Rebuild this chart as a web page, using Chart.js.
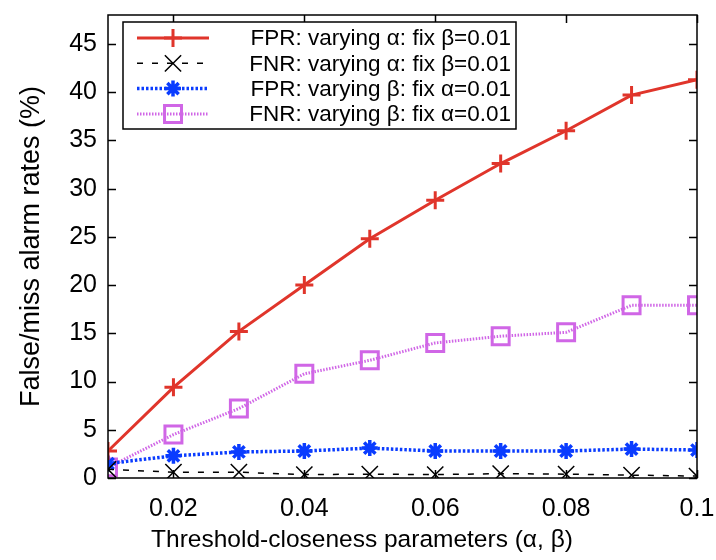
<!DOCTYPE html>
<html>
<head>
<meta charset="utf-8">
<script src="https://cdn.jsdelivr.net/npm/chart.js@4.4.1/dist/chart.umd.min.js"></script>
<style>
  html, body { margin: 0; padding: 0; background: #fff; }
  #wrap { width: 716px; height: 560px; }
</style>
</head>
<body>
<div id="wrap"><canvas id="rates" width="716" height="560"></canvas></div>
<script>
// threshold-closeness parameter values (alpha or beta)
const params = [0.01, 0.02, 0.03, 0.04, 0.05, 0.06, 0.07, 0.08, 0.09, 0.1];

// rates in %
const fprAlpha = [2.8, 9.4, 15.2, 20.0, 24.8, 28.8, 32.6, 36.0, 39.7, 41.3];
const fnrAlpha = [0.9, 0.6, 0.6, 0.35, 0.4, 0.35, 0.45, 0.4, 0.3, 0.2];
const fprBeta = [1.5, 2.3, 2.7, 2.8, 3.1, 2.8, 2.8, 2.8, 3.0, 2.9];
const fnrBeta = [1.1, 4.5, 7.2, 10.8, 12.2, 14.0, 14.7, 15.1, 17.9, 17.9];

const seriesNames = [
  'FPR: varying α: fix β=0.01',
  'FNR: varying α: fix β=0.01',
  'FPR: varying β: fix α=0.01',
  'FNR: varying β: fix α=0.01'
];

const xTicks = [0.02, 0.04, 0.06, 0.08, 0.1];
const xTickLabels = ['0.02', '0.04', '0.06', '0.08', '0.1'];
const yTicks = [0, 5, 10, 15, 20, 25, 30, 35, 40, 45];

const xTitle = 'Threshold-closeness parameters (α, β)';
const yTitle = 'False/miss alarm rates (%)';

const FONT = '"Liberation Sans", Arial, Helvetica, sans-serif';

const pts = (ys) => params.map((x, i) => ({ x: x, y: ys[i] }));

// marker shapes, same geometry Chart.js uses for its point styles
function drawMarker(ctx, style, cx, cy, r) {
  const d = Math.SQRT1_2 * r;
  ctx.beginPath();
  if (style === 'cross' || style === 'star') {
    ctx.moveTo(cx - r, cy); ctx.lineTo(cx + r, cy);
    ctx.moveTo(cx, cy - r); ctx.lineTo(cx, cy + r);
  }
  if (style === 'crossRot' || style === 'star') {
    ctx.moveTo(cx - d, cy - d); ctx.lineTo(cx + d, cy + d);
    ctx.moveTo(cx - d, cy + d); ctx.lineTo(cx + d, cy - d);
  }
  if (style === 'rect') {
    ctx.rect(cx - d, cy - d, 2 * d, 2 * d);
  }
  ctx.stroke();
}

// gnuplot-like frame, inward ticks, x label and boxed key
const framePlugin = {
  id: 'frame',
  afterDraw(chart) {
    const { ctx, chartArea: a, scales: { x, y } } = chart;
    ctx.save();
    ctx.strokeStyle = '#000';
    ctx.lineWidth = 1.5;
    ctx.setLineDash([]);
    ctx.strokeRect(a.left, a.top, a.right - a.left, a.bottom - a.top);

    const tl = 8;
    ctx.beginPath();
    yTicks.forEach(v => {
      const py = Math.round(y.getPixelForValue(v)) + 0.5;
      ctx.moveTo(a.left, py); ctx.lineTo(a.left + tl, py);
      ctx.moveTo(a.right, py); ctx.lineTo(a.right - tl, py);
    });
    xTicks.forEach(v => {
      const px = Math.round(x.getPixelForValue(v)) + 0.5;
      ctx.moveTo(px, a.bottom); ctx.lineTo(px, a.bottom - tl);
      ctx.moveTo(px, a.top); ctx.lineTo(px, a.top + tl);
    });
    ctx.stroke();

    // x label sits centred on the whole figure, as in gnuplot output
    ctx.fillStyle = '#000';
    ctx.font = '24.5px ' + FONT;
    ctx.textAlign = 'center';
    ctx.textBaseline = 'alphabetic';
    ctx.fillText(xTitle, chart.width / 2 + 4, 547);

    // key
    const bx = a.left + 15, by = a.top + 7, bw = 393, bh = 107;
    ctx.fillStyle = '#fff';
    ctx.fillRect(bx, by, bw, bh);
    ctx.lineWidth = 1.5;
    ctx.strokeStyle = '#000';
    ctx.strokeRect(bx, by, bw, bh);

    ctx.font = '22.5px ' + FONT;
    ctx.textAlign = 'right';
    ctx.textBaseline = 'middle';
    chart.data.datasets.forEach((ds, i) => {
      const ry = by + 16 + i * 25.3;
      ctx.strokeStyle = ds.borderColor;
      ctx.lineWidth = ds.borderWidth;
      ctx.setLineDash(ds.borderDash || []);
      ctx.beginPath();
      ctx.moveTo(bx + 14, ry); ctx.lineTo(bx + 86, ry);
      ctx.stroke();
      ctx.setLineDash([]);
      ctx.lineWidth = ds.pointBorderWidth;
      drawMarker(ctx, ds.pointStyle, bx + 50, ry, ds.pointRadius);
      ctx.fillStyle = '#000';
      ctx.fillText(ds.label, bx + bw - 5, ry + 1);
    });
    ctx.restore();
  }
};

const ctx = document.getElementById('rates').getContext('2d');
const ratesChart = new Chart(ctx, {
  type: 'line',
  data: {
    datasets: [
      {
        label: seriesNames[0],
        data: pts(fprAlpha),
        borderColor: '#e0352b',
        borderWidth: 3,
        pointStyle: 'cross',
        pointRadius: 9,
        pointBorderWidth: 3,
        pointBorderColor: '#e0352b',
        pointBackgroundColor: 'rgba(0,0,0,0)'
      },
      {
        label: seriesNames[1],
        data: pts(fnrAlpha),
        borderColor: '#000',
        borderWidth: 1.5,
        borderDash: [6, 9],
        pointStyle: 'crossRot',
        pointRadius: 11.5,
        pointBorderWidth: 1.5,
        pointBorderColor: '#000',
        pointBackgroundColor: 'rgba(0,0,0,0)'
      },
      {
        label: seriesNames[2],
        data: pts(fprBeta),
        borderColor: '#0a3cff',
        borderWidth: 3.5,
        borderDash: [2.5, 2],
        pointStyle: 'star',
        pointRadius: 8,
        pointBorderWidth: 3.5,
        pointBorderColor: '#0a3cff',
        pointBackgroundColor: 'rgba(0,0,0,0)'
      },
      {
        label: seriesNames[3],
        data: pts(fnrBeta),
        borderColor: '#d066e6',
        borderWidth: 3,
        borderDash: [1.5, 1.5],
        pointStyle: 'rect',
        pointRadius: 12,
        pointBorderWidth: 3,
        pointBorderColor: '#d066e6',
        pointBackgroundColor: 'rgba(0,0,0,0)'
      }
    ]
  },
  options: {
    responsive: false,
    animation: false,
    layout: { padding: { left: 0, top: 7, right: 19, bottom: 0 } },
    plugins: {
      legend: { display: false },
      tooltip: { enabled: false }
    },
    elements: { line: { tension: 0 } },
    scales: {
      x: {
        type: 'linear',
        min: 0.01,
        max: 0.1,
        afterBuildTicks: (scale) => { scale.ticks = xTicks.map(v => ({ value: v })); },
        afterFit: (scale) => {
          scale.height = 82;
          scale.paddingLeft = 0;
          scale.paddingRight = 0;
        },
        grid: { display: false, drawTicks: false },
        border: { display: false },
        ticks: {
          color: '#000',
          padding: 16,
          maxRotation: 0,
          font: { family: FONT, size: 25 },
          callback: (v) => xTickLabels[xTicks.indexOf(v)]
        },
        title: { display: false }
      },
      y: {
        min: 0,
        max: 48,
        afterBuildTicks: (scale) => { scale.ticks = yTicks.map(v => ({ value: v })); },
        afterFit: (scale) => {
          scale.width = 108;
          scale.paddingTop = 0;
          scale.paddingBottom = 0;
        },
        grid: { display: false, drawTicks: false },
        border: { display: false },
        ticks: {
          color: '#000',
          padding: 11,
          font: { family: FONT, size: 25 }
        },
        title: {
          display: true,
          text: yTitle,
          color: '#000',
          font: { family: FONT, size: 27 },
          padding: { top: 15, bottom: 0 }
        }
      }
    }
  },
  plugins: [framePlugin]
});
</script>
</body>
</html>
